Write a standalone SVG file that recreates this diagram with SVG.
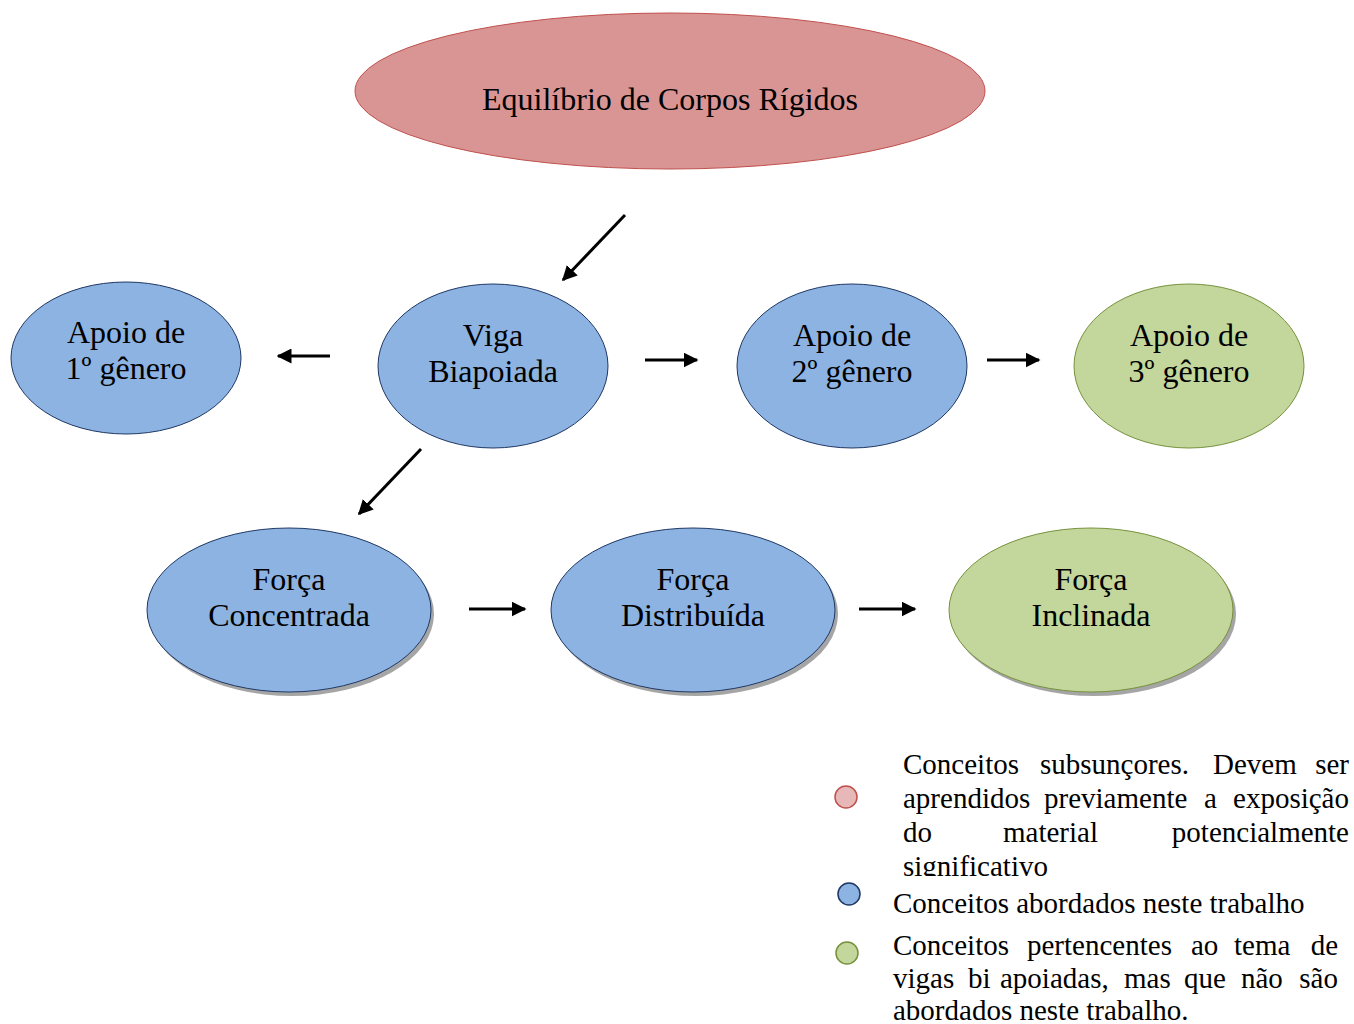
<svg xmlns="http://www.w3.org/2000/svg" width="1354" height="1024" viewBox="0 0 1354 1024">
<style>
text{font-family:"Liberation Serif","Times New Roman",serif;fill:#000}
.n{font-size:32px;text-anchor:middle}
.lg{font-size:29px}
.e{text-anchor:end}
.red{fill:#D99594;stroke:#C0504D;stroke-width:1}
.blue{fill:#8DB3E2;stroke:#1F3864;stroke-width:1}
.green{fill:#C3D69B;stroke:#76923C;stroke-width:1}
.sh{fill:#7F7F7F;opacity:0.7}
.c{stroke:#000;stroke-width:3;fill:none;marker-end:url(#ah)}
</style>
<defs>
<marker id="ah" viewBox="0 0 10 10" refX="9" refY="5" markerWidth="5" markerHeight="5" orient="auto" markerUnits="strokeWidth">
<path d="M0,0 L10,5 L0,10 Z" fill="#000"/>
</marker>
<clipPath id="clipL"><rect x="895" y="745" width="460" height="131"/></clipPath>
</defs>
<rect width="1354" height="1024" fill="#fff"/>
<g id="n-equilibrio"><ellipse class="red" cx="670" cy="91" rx="315" ry="78"/><text class="n" x="670" y="110">Equilíbrio de Corpos Rígidos</text></g>
<g id="n-apoio1"><ellipse class="blue" cx="126" cy="358" rx="115" ry="76"/><text class="n" x="126" y="343">Apoio de</text><text class="n" x="126" y="379">1º gênero</text></g>
<g id="n-viga"><ellipse class="blue" cx="493" cy="366" rx="115" ry="82"/><text class="n" x="493" y="346">Viga</text><text class="n" x="493" y="382">Biapoiada</text></g>
<g id="n-apoio2"><ellipse class="blue" cx="852" cy="366" rx="115" ry="82"/><text class="n" x="852" y="346">Apoio de</text><text class="n" x="852" y="382">2º gênero</text></g>
<g id="n-apoio3"><ellipse class="green" cx="1189" cy="366" rx="115" ry="82"/><text class="n" x="1189" y="346">Apoio de</text><text class="n" x="1189" y="382">3º gênero</text></g>
<g id="n-concentrada"><ellipse class="sh" cx="292" cy="614" rx="142" ry="82"/><ellipse class="blue" cx="289" cy="610" rx="142" ry="82"/><text class="n" x="289" y="590">Força</text><text class="n" x="289" y="626">Concentrada</text></g>
<g id="n-distribuida"><ellipse class="sh" cx="696" cy="614" rx="142" ry="82"/><ellipse class="blue" cx="693" cy="610" rx="142" ry="82"/><text class="n" x="693" y="590">Força</text><text class="n" x="693" y="626">Distribuída</text></g>
<g id="n-inclinada"><ellipse class="sh" cx="1094" cy="614" rx="142" ry="82"/><ellipse class="green" cx="1091" cy="610" rx="142" ry="82"/><text class="n" x="1091" y="590">Força</text><text class="n" x="1091" y="626">Inclinada</text></g>
<g id="connectors">
<line class="c" x1="625" y1="215" x2="563" y2="280"/>
<line class="c" x1="330" y1="356" x2="278" y2="356"/>
<line class="c" x1="645" y1="360" x2="697" y2="360"/>
<line class="c" x1="987" y1="360" x2="1039" y2="360"/>
<line class="c" x1="421" y1="449" x2="359" y2="514"/>
<line class="c" x1="469" y1="609" x2="525" y2="609"/>
<line class="c" x1="859" y1="609" x2="915" y2="609"/>
</g>
<g id="legend">
<circle cx="846" cy="797" r="11" fill="#E6B9B8" stroke="#C0504D" stroke-width="1.5"/>
<circle cx="849" cy="894" r="11" fill="#8DB3E2" stroke="#1F3864" stroke-width="1.5"/>
<circle cx="847" cy="953" r="11" fill="#C3D69B" stroke="#76923C" stroke-width="1.5"/>
<g clip-path="url(#clipL)" class="lg">
<text x="903" y="774">Conceitos</text><text x="1040" y="774">subsunçores.</text><text x="1213" y="774">Devem</text><text class="e" x="1349" y="774">ser</text>
<text x="903" y="808">aprendidos</text><text x="1044" y="808">previamente</text><text x="1204" y="808">a</text><text class="e" x="1349" y="808">exposição</text>
<text x="903" y="842">do</text><text x="1003" y="842">material</text><text class="e" x="1349" y="842">potencialmente</text>
<text x="903" y="876">significativo</text>
</g>
<text class="lg" x="893" y="913">Conceitos abordados neste trabalho</text>
<text class="lg" x="893" y="955">Conceitos</text><text class="lg" x="1027" y="955">pertencentes</text><text class="lg" x="1191" y="955">ao</text><text class="lg" x="1234" y="955">tema</text><text class="lg e" x="1338" y="955">de</text>
<text class="lg" x="893" y="988">vigas</text><text class="lg" x="968" y="988">bi</text><text class="lg" x="1000" y="988">apoiadas,</text><text class="lg" x="1124" y="988">mas</text><text class="lg" x="1184" y="988">que</text><text class="lg" x="1241" y="988">não</text><text class="lg e" x="1338" y="988">são</text>
<text class="lg" x="893" y="1020">abordados neste trabalho.</text>
</g>
</svg>
